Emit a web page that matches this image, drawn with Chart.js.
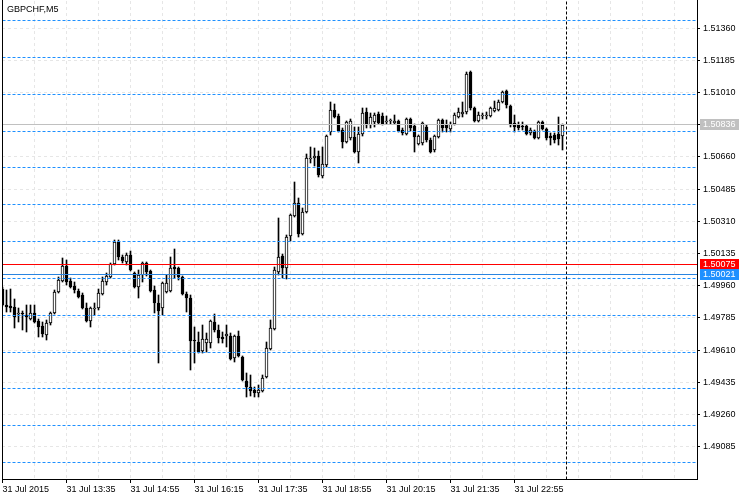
<!DOCTYPE html>
<html>
<head>
<meta charset="utf-8">
<script src="https://cdn.jsdelivr.net/npm/chart.js@4.4.1/dist/chart.umd.min.js"></script>
<style>
  html, body { margin: 0; padding: 0; background: #fff; }
  canvas { display: block; }
</style>
</head>
<body>
<canvas id="chart" width="750" height="500"></canvas>
<script>
// GBPCHF M5, 31 Jul 2015 12:15 .. 23:55
const symbolTitle = 'GBPCHF,M5';

const open = [
  1.49942, 1.49855, 1.49850, 1.49845, 1.49807, 1.49812, 1.49801, 1.49779, 1.49812, 1.49769,
  1.49741, 1.49692, 1.49758, 1.49812, 1.49926, 1.49986, 1.50067, 1.49986, 1.49959, 1.49932,
  1.49910, 1.49839, 1.49769, 1.49834, 1.49839, 1.49915, 1.49980, 1.50008, 1.50078, 1.50198,
  1.50116, 1.50089, 1.50127, 1.50029, 1.49953, 1.50018, 1.50084, 1.50040, 1.49937, 1.49866,
  1.49839, 1.49926, 1.49932, 1.50062, 1.50056, 1.50008, 1.49915, 1.49893, 1.49665, 1.49654,
  1.49606, 1.49649, 1.49649, 1.49763, 1.49720, 1.49682, 1.49687, 1.49687, 1.49568, 1.49687,
  1.49573, 1.49443, 1.49410, 1.49394, 1.49377, 1.49388, 1.49464, 1.49616, 1.49725, 1.50035,
  1.50122, 1.50056, 1.50230, 1.50339, 1.50410, 1.50241, 1.50361, 1.50649, 1.50654, 1.50665,
  1.50556, 1.50616, 1.50795, 1.50915, 1.50882, 1.50806, 1.50741, 1.50763, 1.50768, 1.50687,
  1.50784, 1.50904, 1.50833, 1.50850, 1.50893, 1.50882, 1.50850, 1.50855, 1.50844, 1.50855,
  1.50806, 1.50784, 1.50866, 1.50828, 1.50730, 1.50736, 1.50823, 1.50752, 1.50698, 1.50768,
  1.50861, 1.50833, 1.50812, 1.50839, 1.50877, 1.50893, 1.50904, 1.51121, 1.50926, 1.50855,
  1.50882, 1.50882, 1.50882, 1.50909, 1.50915, 1.50958, 1.51018, 1.50937, 1.50844, 1.50833,
  1.50828, 1.50828, 1.50790, 1.50801, 1.50763, 1.50850, 1.50812, 1.50774, 1.50779, 1.50784,
  1.50774
];
const high = [
  1.49953, 1.49937, 1.49942, 1.49888, 1.49839, 1.49823, 1.49855, 1.49855, 1.49855, 1.49779,
  1.49763, 1.49774, 1.49817, 1.49937, 1.50008, 1.50111, 1.50100, 1.50002, 1.49980, 1.49942,
  1.49921, 1.49866, 1.49845, 1.49866, 1.49942, 1.50008, 1.50029, 1.50084, 1.50209, 1.50209,
  1.50127, 1.50138, 1.50149, 1.50035, 1.50046, 1.50089, 1.50089, 1.50046, 1.49959, 1.49910,
  1.49980, 1.50018, 1.50116, 1.50160, 1.50062, 1.50013, 1.49926, 1.49910, 1.49736, 1.49709,
  1.49747, 1.49703, 1.49774, 1.49807, 1.49747, 1.49709, 1.49747, 1.49703, 1.49692, 1.49714,
  1.49578, 1.49486, 1.49475, 1.49410, 1.49421, 1.49475, 1.49654, 1.49774, 1.50062, 1.50328,
  1.50133, 1.50236, 1.50350, 1.50524, 1.50437, 1.50382, 1.50676, 1.50714, 1.50708, 1.50692,
  1.50714, 1.50779, 1.50958, 1.50947, 1.50893, 1.50817, 1.50855, 1.50866, 1.50823, 1.50823,
  1.50926, 1.50926, 1.50899, 1.50899, 1.50904, 1.50899, 1.50882, 1.50866, 1.50888, 1.50861,
  1.50817, 1.50871, 1.50871, 1.50839, 1.50779, 1.50850, 1.50833, 1.50763, 1.50779, 1.50866,
  1.50866, 1.50861, 1.50850, 1.50899, 1.50926, 1.50958, 1.51121, 1.51127, 1.50931, 1.50904,
  1.50899, 1.50904, 1.50931, 1.50964, 1.50969, 1.51018, 1.51024, 1.50942, 1.50888, 1.50850,
  1.50850, 1.50833, 1.50817, 1.50806, 1.50855, 1.50855, 1.50817, 1.50790, 1.50790, 1.50877,
  1.50840
];
const low = [
  1.49850, 1.49817, 1.49817, 1.49730, 1.49763, 1.49720, 1.49709, 1.49774, 1.49758, 1.49682,
  1.49682, 1.49665, 1.49747, 1.49807, 1.49921, 1.49980, 1.49964, 1.49948, 1.49921, 1.49893,
  1.49834, 1.49763, 1.49736, 1.49801, 1.49828, 1.49910, 1.49964, 1.50002, 1.50073, 1.50100,
  1.50084, 1.50073, 1.50040, 1.49948, 1.49893, 1.49980, 1.50013, 1.49926, 1.49812, 1.49540,
  1.49801, 1.49921, 1.49926, 1.50002, 1.49991, 1.49910, 1.49817, 1.49502, 1.49540, 1.49595,
  1.49595, 1.49600, 1.49622, 1.49709, 1.49649, 1.49649, 1.49627, 1.49557, 1.49546, 1.49573,
  1.49443, 1.49356, 1.49361, 1.49356, 1.49356, 1.49383, 1.49459, 1.49611, 1.49720, 1.50018,
  1.50002, 1.49997, 1.50203, 1.50334, 1.50225, 1.50236, 1.50355, 1.50627, 1.50611, 1.50551,
  1.50545, 1.50605, 1.50779, 1.50871, 1.50795, 1.50708, 1.50736, 1.50752, 1.50681, 1.50627,
  1.50774, 1.50817, 1.50817, 1.50823, 1.50839, 1.50833, 1.50839, 1.50839, 1.50839, 1.50795,
  1.50779, 1.50779, 1.50801, 1.50687, 1.50725, 1.50725, 1.50741, 1.50681, 1.50687, 1.50763,
  1.50795, 1.50795, 1.50795, 1.50833, 1.50871, 1.50877, 1.50893, 1.50915, 1.50850, 1.50850,
  1.50866, 1.50866, 1.50877, 1.50904, 1.50909, 1.50953, 1.50926, 1.50823, 1.50795, 1.50806,
  1.50806, 1.50779, 1.50779, 1.50757, 1.50757, 1.50806, 1.50752, 1.50725, 1.50736, 1.50725,
  1.50698
];
const close = [
  1.49855, 1.49845, 1.49839, 1.49790, 1.49812, 1.49807, 1.49790, 1.49812, 1.49763, 1.49736,
  1.49698, 1.49758, 1.49812, 1.49926, 1.49991, 1.50067, 1.49980, 1.49953, 1.49937, 1.49899,
  1.49839, 1.49769, 1.49839, 1.49839, 1.49921, 1.49986, 1.50013, 1.50078, 1.50198, 1.50116,
  1.50095, 1.50127, 1.50046, 1.49953, 1.50018, 1.50084, 1.50035, 1.49932, 1.49866, 1.49823,
  1.49975, 1.49975, 1.50056, 1.50051, 1.50008, 1.49915, 1.49893, 1.49660, 1.49660, 1.49600,
  1.49671, 1.49671, 1.49769, 1.49720, 1.49676, 1.49671, 1.49698, 1.49562, 1.49687, 1.49578,
  1.49448, 1.49410, 1.49388, 1.49377, 1.49394, 1.49459, 1.49622, 1.49730, 1.50046, 1.50116,
  1.50056, 1.50225, 1.50344, 1.50410, 1.50241, 1.50361, 1.50654, 1.50654, 1.50665, 1.50562,
  1.50622, 1.50774, 1.50915, 1.50877, 1.50801, 1.50741, 1.50850, 1.50855, 1.50687, 1.50784,
  1.50899, 1.50833, 1.50877, 1.50888, 1.50844, 1.50839, 1.50855, 1.50861, 1.50855, 1.50801,
  1.50790, 1.50866, 1.50817, 1.50768, 1.50774, 1.50844, 1.50752, 1.50687, 1.50774, 1.50861,
  1.50817, 1.50817, 1.50839, 1.50888, 1.50904, 1.50904, 1.51110, 1.50926, 1.50855, 1.50888,
  1.50888, 1.50888, 1.50926, 1.50926, 1.50958, 1.51013, 1.50942, 1.50833, 1.50823, 1.50817,
  1.50823, 1.50784, 1.50806, 1.50763, 1.50850, 1.50812, 1.50763, 1.50763, 1.50752, 1.50757,
  1.50836
];

// axis labels
const xLabels = ['31 Jul 2015', '31 Jul 13:35', '31 Jul 14:55', '31 Jul 16:15', '31 Jul 17:35',
                 '31 Jul 18:55', '31 Jul 20:15', '31 Jul 21:35', '31 Jul 22:55'];
const barsPerLabel = 16;
const yTicks = [1.51360, 1.51185, 1.51010, 1.50835, 1.50660, 1.50485, 1.50310,
                1.50135, 1.49960, 1.49785, 1.49610, 1.49435, 1.49260, 1.49085];

// horizontal objects on the chart
const levels = [1.514, 1.512, 1.510, 1.508, 1.506, 1.504, 1.502, 1.500, 1.498, 1.496, 1.494, 1.492, 1.490];
const bidPrice = 1.50836;
const redLevel = 1.50075;
const blueLevel = 1.50021;
const separatorBar = close.length;

// visible window
const xMin = -0.125, xMax = 173.625;
const yMin = 1.489101, yMax = 1.515071;

Chart.defaults.font.family = "'Liberation Sans', Arial, sans-serif";
Chart.defaults.font.size = 9;
Chart.defaults.color = '#000';

function hline(value, color, dash) {
    return {
        type: 'line',
        data: [{ x: xMin, y: value }, { x: xMax, y: value }],
        borderColor: color,
        borderWidth: 1,
        borderDash: dash,
        pointRadius: 0,
        fill: false,
        order: 0,
    };
}

// no extra room for overflowing tick labels, the frame is fixed
function noPadding(s) {
    s.paddingTop = 0;
    s.paddingBottom = 0;
    s.paddingLeft = 0;
    s.paddingRight = 0;
}

const gridSteps = [];
for (let i = 0; i <= xMax; i += barsPerLabel / 2) gridSteps.push(i);

const isLabelled = (v) => v % barsPerLabel === 0 && v / barsPerLabel < xLabels.length;

// snap the computed element positions to whole pixels so everything stays crisp like the terminal
const pixelSnap = {
    id: 'pixelSnap',
    afterDatasetsUpdate(chart) {
        chart.data.datasets.forEach((ds, di) => {
            const meta = chart.getDatasetMeta(di);
            meta.data.forEach(el => {
                if (meta.type === 'bar') {
                    let top = Math.round(Math.min(el.y, el.base));
                    let bottom = Math.round(Math.max(el.y, el.base));
                    if (bottom - top < 1) bottom = top + 1;
                    el.y = top;
                    el.base = bottom;
                } else {
                    el.y = Math.floor(el.y) + 0.5;
                    el.x = Math.floor(el.x) + 0.5;
                }
            });
        });
    }
};

// frame, title and price tags on the right
const chrome = {
    id: 'chrome',
    afterDraw(chart) {
        const { ctx, chartArea: a, scales: { y } } = chart;
        ctx.save();
        ctx.strokeStyle = '#000';
        ctx.lineWidth = 1;
        ctx.beginPath();
        ctx.moveTo(a.left + 0.5, 0);
        ctx.lineTo(a.left + 0.5, a.bottom + 0.5);
        ctx.lineTo(a.right + 0.5, a.bottom + 0.5);
        ctx.lineTo(a.right + 0.5, 0);
        ctx.stroke();

        ctx.font = "9px 'Liberation Sans', Arial, sans-serif";
        ctx.textAlign = 'left';
        ctx.textBaseline = 'middle';
        ctx.fillStyle = '#000';
        ctx.fillText(symbolTitle, 7, 10);

        const tags = [[bidPrice, '#c0c0c0'], [redLevel, '#ff0000'], [blueLevel, '#1e90ff']];
        tags.forEach(([value, color]) => {
            const py = Math.floor(y.getPixelForValue(value));
            ctx.fillStyle = color;
            ctx.fillRect(a.right + 3, py - 5, 39, 11);
            ctx.fillStyle = '#fff';
            ctx.fillText(value.toFixed(5), a.right + 6, py + 0.5);
        });
        ctx.restore();
    }
};

new Chart(document.getElementById('chart'), {
    type: 'bar',
    data: {
        datasets: [
            // wicks
            {
                data: low.map((l, i) => ({ x: i, y: [l, high[i]] })),
                backgroundColor: '#000',
                borderWidth: 0,
                barThickness: 1,
                grouped: false,
                order: 2,
            },
            // bodies
            {
                data: open.map((o, i) => ({ x: i, y: [o, close[i]] })),
                backgroundColor: open.map((o, i) => close[i] >= o ? '#fff' : '#000'),
                borderColor: '#000',
                borderWidth: 1,
                borderSkipped: false,
                barThickness: 3,
                minBarLength: 1,
                grouped: false,
                order: 1,
            },
            ...levels.map(v => hline(v, '#1e90ff', [3, 2])),
            hline(bidPrice, '#c0c0c0', []),
            hline(redLevel, '#ff0000', []),
            hline(blueLevel, '#2a84e0', []),
            {
                type: 'line',
                data: [{ x: separatorBar, y: yMin }, { x: separatorBar, y: yMax }],
                borderColor: '#000',
                borderWidth: 1,
                borderDash: [3, 2],
                pointRadius: 0,
                fill: false,
                order: 0,
            },
        ],
    },
    options: {
        responsive: false,
        devicePixelRatio: 1,
        animation: false,
        layout: { padding: { left: 2, top: 1, right: 0, bottom: 0 } },
        plugins: {
            legend: { display: false },
            tooltip: { enabled: false },
        },
        scales: {
            x: {
                type: 'linear',
                min: xMin,
                max: xMax,
                offset: false,
                afterFit(s) { s.height = 21; noPadding(s); },
                afterBuildTicks(s) { s.ticks = gridSteps.map(v => ({ value: v })); },
                ticks: {
                    autoSkip: false,
                    maxRotation: 0,
                    minRotation: 0,
                    align: 'start',
                    padding: 1,
                    callback: (v) => isLabelled(v) ? xLabels[v / barsPerLabel] : '',
                },
                grid: {
                    offset: false,
                    color: '#e6e6e6',
                    tickLength: 4,
                    tickColor: (c) => c.tick && isLabelled(c.tick.value) ? '#000' : 'rgba(0,0,0,0)',
                },
                border: { display: true, color: '#000', width: 1, dash: [3, 3] },
            },
            y: {
                type: 'linear',
                position: 'right',
                min: yMin,
                max: yMax,
                beginAtZero: false,
                afterFit(s) { s.width = 53; noPadding(s); },
                afterBuildTicks(s) { s.ticks = yTicks.map(v => ({ value: v })); },
                ticks: {
                    autoSkip: false,
                    padding: 3,
                    callback: (v) => v.toFixed(5),
                },
                grid: {
                    color: '#e6e6e6',
                    tickLength: 3,
                    tickColor: '#000',
                },
                border: { display: true, color: '#000', width: 1, dash: [3, 3] },
            },
        },
    },
    plugins: [pixelSnap, chrome],
});
</script>
</body>
</html>
